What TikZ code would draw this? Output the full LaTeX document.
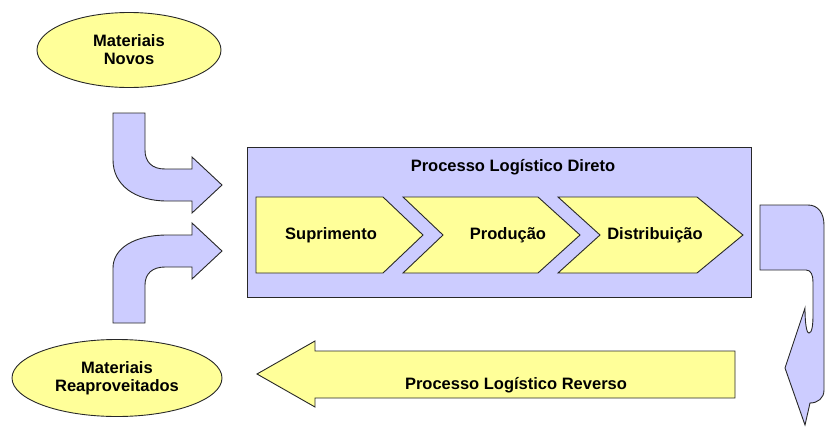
\documentclass[tikz,border=0pt]{standalone}
\usepackage{fontspec}
\setmainfont{Liberation Sans}
\usetikzlibrary{shapes.geometric}
\definecolor{lavender}{RGB}{204,204,255}
\definecolor{paleyellow}{RGB}{255,255,153}
\definecolor{edge}{RGB}{40,40,40}
\tikzset{
  label/.style={font=\fontsize{16.5}{18}\selectfont\bfseries, text=black, align=center, inner sep=0pt},
  blockarrow/.style={fill=lavender, draw=edge, line width=0.9pt, line join=miter},
  stagebox/.style={fill=paleyellow, draw=edge, line width=0.9pt, line join=miter},
  materialellipse/.style={ellipse, fill=paleyellow, draw=edge, line width=0.9pt, inner sep=0pt},
}
\begin{document}
\begin{tikzpicture}[x=1pt,y=-1pt]
\useasboundingbox (0,0) rectangle (825,426);

% material sources
\node[materialellipse, minimum width=184pt, minimum height=75pt] (novos) at (129,50) {};
\node[label] at (novos.center) {Materiais\\Novos};
\node[materialellipse, minimum width=210pt, minimum height=77pt] (reaprov) at (117,378) {};
\node[label] at (reaprov.center) {Materiais\\Reaproveitados};

% bent arrows feeding the direct process
\draw[blockarrow] (113,113) -- (145,113) -- (145,150)
  .. controls (145,162) and (152,169) .. (165,169) -- (192,169) -- (192,157)
  -- (222,185) -- (192,213) -- (192,201) -- (167,201)
  .. controls (135,201) and (113,185) .. (113,160) -- cycle;
\draw[blockarrow] (113,323) -- (113,268)
  .. controls (113,248) and (135,235) .. (167,235) -- (192,235) -- (192,223)
  -- (222,251) -- (192,279) -- (192,267) -- (165,267)
  .. controls (152,267) and (145,274) .. (145,285) -- (145,323) -- cycle;

% direct logistic process
\draw[fill=lavender, draw=edge, line width=1pt] (247,147) rectangle (751,297);
\node[label] (direto) at (513,167) {Processo Logístico Direto};

\draw[stagebox] (256,197) -- (383,197) -- (423,235) -- (383,273) -- (256,273) -- cycle;
\draw[stagebox] (403,197) -- (538,197) -- (580,235) -- (538,273) -- (403,273) -- (443,235) -- cycle;
\draw[stagebox] (558,197) -- (697,197) -- (743,235) -- (697,273) -- (558,273) -- (600,235) -- cycle;
\node[label] (supr) at (331,235) {Suprimento};
\node[label] (prod) at (508,235) {Produção};
\node[label] (dist) at (655,235) {Distribuição};

% curved return arrow on the right
\draw[blockarrow] (760,205) -- (808,205)
  .. controls (818,205) and (824,213) .. (824,225) -- (824,390)
  .. controls (824,398) and (818,403) .. (810,403) -- (805,425) -- (785,368) -- (805,308)
  .. controls (805,320) and (806,333) .. (809,333)
  .. controls (812,333) and (813,325) .. (813,315) -- (813,282)
  .. controls (813,275) and (811,270) .. (806,270) -- (760,270) -- cycle;

% reverse logistic process
\draw[stagebox] (735,351) -- (315,351) -- (315,341) -- (257,374) -- (315,407) -- (315,398) -- (735,398) -- cycle;
\node[label] (reverso) at (516,385) {Processo Logístico Reverso};
\end{tikzpicture}
\end{document}
